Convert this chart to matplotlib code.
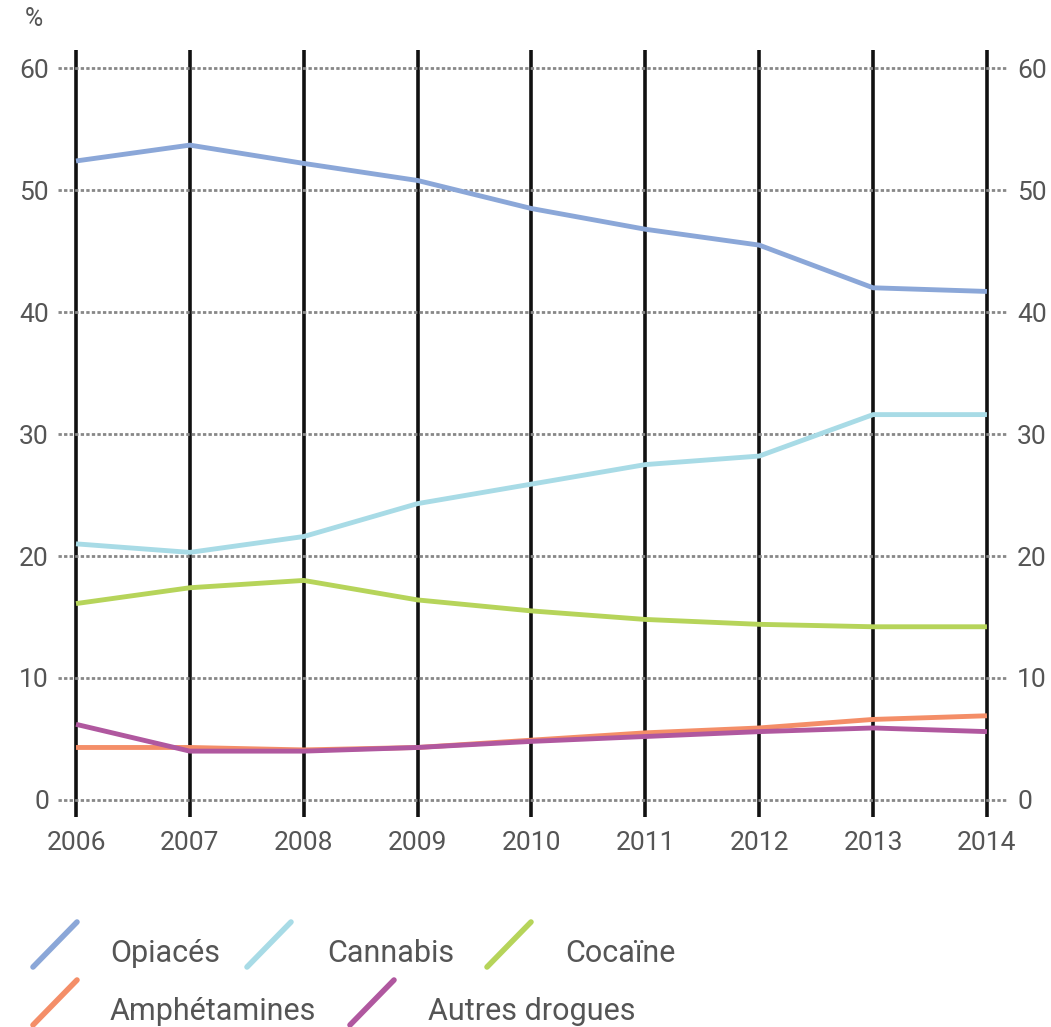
from matplotlib import pyplot as plt
from matplotlib.lines import Line2D

plt.rcParams['font.family'] = ['Roboto', 'DejaVu Sans']

years = [2006, 2007, 2008, 2009, 2010, 2011, 2012, 2013, 2014]
opiaces = [52.4, 53.7, 52.2, 50.8, 48.5, 46.8, 45.5, 42.0, 41.7]
cannabis = [21.0, 20.3, 21.6, 24.3, 25.9, 27.5, 28.2, 31.6, 31.6]
cocaine = [16.1, 17.4, 18.0, 16.4, 15.5, 14.8, 14.4, 14.2, 14.2]
amphetamines = [4.3, 4.3, 4.1, 4.3, 4.9, 5.5, 5.9, 6.6, 6.9]
autres = [6.2, 4.0, 4.0, 4.3, 4.8, 5.2, 5.6, 5.9, 5.6]

labels = ['Opiacés', 'Cannabis', 'Cocaïne', 'Amphétamines', 'Autres drogues']
colors = ['#8ba7d8', '#a8dbe6', '#b6d45a', '#f48e68', '#b0589f']
series = [opiaces, cannabis, cocaine, amphetamines, autres]

text_color = '#555555'

fig = plt.figure(figsize=(10.51, 10.27), dpi=100)
ax = fig.add_axes([0.0552, 0.2045, 0.9039, 0.7468])

for vals, col in zip(series, colors):
    ax.plot(years, vals, color=col, linewidth=3.5, solid_capstyle='butt', zorder=3)

ax.set_xlim(2006 - 0.158, 2014 + 0.185)
ax.set_ylim(-1.4, 61.5)
ax.set_xticks(years)
ax.set_yticks(range(0, 61, 10))

ax.xaxis.grid(True, color='#111111', linewidth=2.6, linestyle='-', zorder=1)
ax.yaxis.grid(True, color='#888888', linewidth=2.0, linestyle=(0, (1.2, 0.8)), zorder=1)
ax.set_axisbelow(True)
for s in ax.spines.values():
    s.set_visible(False)

ax.tick_params(axis='both', length=0, labelsize=19, labelcolor=text_color)
ax.tick_params(axis='x', pad=10)
ax.tick_params(axis='y', pad=6.5, labelright=True)

fig.text(34 / 1051, 1 - 19 / 1027, '%', fontsize=18, color=text_color,
         ha='center', va='center')

# legend with slanted markers
W, H = 1051, 1027
items = [(0, 0, 33, 110), (1, 0, 247, 327), (2, 0, 487, 565),
         (3, 1, 33, 110), (4, 1, 350, 428)]
for idx, row, mx, tx in items:
    base = 962 + row * 58
    fig.add_artist(Line2D([mx / W, (mx + 44) / W],
                          [1 - (base + 5) / H, 1 - (base - 40) / H],
                          color=colors[idx], linewidth=4, solid_capstyle='round',
                          transform=fig.transFigure))
    fig.text(tx / W, 1 - base / H, labels[idx], fontsize=22, color=text_color,
             ha='left', va='baseline')

plt.savefig('out.png')
